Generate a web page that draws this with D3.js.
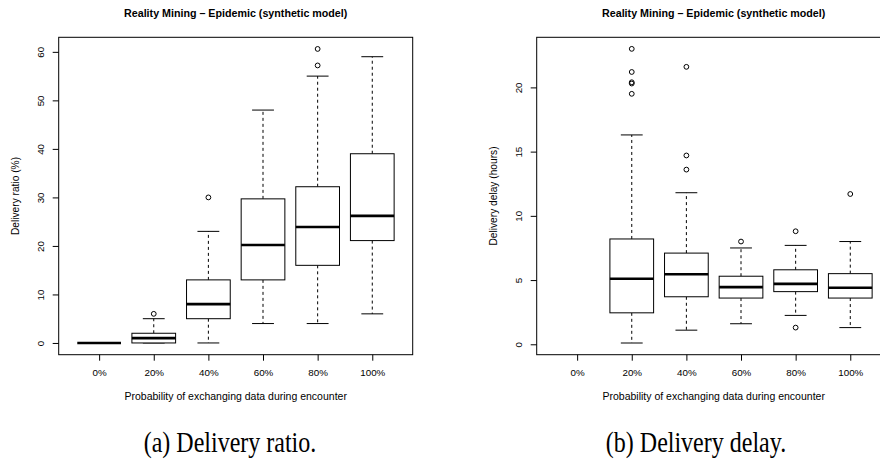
<!DOCTYPE html>
<html>
<head>
<meta charset="utf-8">
<script src="https://cdn.jsdelivr.net/npm/d3@7"></script>
<style>
  body { margin: 0; background: #fff; }
  svg { display: block; }
</style>
</head>
<body>
<div id="chart"></div>
<script>
// categories shared by both panels
var categories = ["0%", "20%", "40%", "60%", "80%", "100%"];

// (a) delivery ratio (%) - box stats per category
var ratioLow    = [0, 0, 0, 4, 4, 6];
var ratioQ1     = [0, 0, 5, 13, 16, 21.1];
var ratioMedian = [0, 1, 8, 20.2, 23.9, 26.2];
var ratioQ3     = [0, 2, 13, 29.7, 32.2, 39];
var ratioHigh   = [0, 5, 23, 48, 55, 59];
var ratioOut    = [[], [6], [30], [], [57.2, 60.6], []];
var ratioTicks  = [0, 10, 20, 30, 40, 50, 60];

// (b) delivery delay (hours) - no data for 0%
var delayLow    = [null, 0.1, 1.1, 1.6, 2.25, 1.3];
var delayQ1     = [null, 2.45, 3.7, 3.6, 4.1, 3.6];
var delayMedian = [null, 5.1, 5.45, 4.45, 4.7, 4.4];
var delayQ3     = [null, 8.2, 7.1, 5.3, 5.8, 5.5];
var delayHigh   = [null, 16.3, 11.8, 7.5, 7.7, 8.0];
var delayOut    = [[], [19.5, 20.3, 20.4, 21.2, 23.0], [13.6, 14.7, 21.6], [8.0], [1.3, 8.8], [11.7]];
var delayTicks  = [0, 5, 10, 15, 20];

var title = "Reality Mining \u2013 Epidemic (synthetic model)";
var xTitle = "Probability of exchanging data during encounter";

var sans = "Liberation Sans, Arial, sans-serif";

var svg = d3.select("#chart").append("svg")
    .attr("width", 880)
    .attr("height", 460);

var top_ = 37.3, bottom_ = 354.7;

function panel(opt) {
    var left = opt.left, right = left + 354;

    var x = d3.scaleLinear().domain([0.26, 6.74]).range([left, right]);
    var y = d3.scaleLinear().domain(opt.yDomain).range([bottom_, top_]);

    var g = svg.append("g");

    // frame
    g.append("rect")
        .attr("x", left).attr("y", top_)
        .attr("width", right - left).attr("height", bottom_ - top_)
        .attr("fill", "none").attr("stroke", "#000").attr("stroke-width", 1);

    // boxes
    var bw = 0.8, sw = 0.4;
    categories.forEach(function(c, i) {
        var cx = x(i + 1);
        if (opt.median[i] != null) {
            var dash = "3,3";
            // whiskers
            g.append("line")
                .attr("x1", cx).attr("x2", cx)
                .attr("y1", y(opt.q3[i])).attr("y2", y(opt.high[i]))
                .attr("stroke", "#000").attr("stroke-dasharray", dash);
            g.append("line")
                .attr("x1", cx).attr("x2", cx)
                .attr("y1", y(opt.q1[i])).attr("y2", y(opt.low[i]))
                .attr("stroke", "#000").attr("stroke-dasharray", dash);
            // staples
            [opt.low[i], opt.high[i]].forEach(function(v) {
                g.append("line")
                    .attr("x1", x(i + 1 - sw / 2)).attr("x2", x(i + 1 + sw / 2))
                    .attr("y1", y(v)).attr("y2", y(v))
                    .attr("stroke", "#000");
            });
            // box
            g.append("rect")
                .attr("x", x(i + 1 - bw / 2))
                .attr("y", y(opt.q3[i]))
                .attr("width", x(i + 1 + bw / 2) - x(i + 1 - bw / 2))
                .attr("height", Math.max(0, y(opt.q1[i]) - y(opt.q3[i])))
                .attr("fill", "#fff").attr("stroke", "#000");
            // median
            g.append("line")
                .attr("x1", x(i + 1 - bw / 2)).attr("x2", x(i + 1 + bw / 2))
                .attr("y1", y(opt.median[i])).attr("y2", y(opt.median[i]))
                .attr("stroke", "#000").attr("stroke-width", 2.6);
        }
        // outliers
        g.selectAll(null).data(opt.out[i]).enter()
            .append("circle")
            .attr("cx", cx).attr("cy", function(d) { return y(d); })
            .attr("r", 2.4)
            .attr("fill", "none").attr("stroke", "#000").attr("stroke-width", 1);
    });

    // x axis
    var xAxis = g.append("g")
        .attr("transform", "translate(0," + bottom_ + ")")
        .call(d3.axisBottom(x).tickValues([1, 2, 3, 4, 5, 6])
            .tickFormat(function(d) { return categories[d - 1]; })
            .tickSize(6).tickPadding(8));
    xAxis.select(".domain").remove();
    xAxis.selectAll("text").attr("font-size", 9.8).attr("font-family", sans);

    // y axis, labels parallel to the axis like R
    var yAxis = g.append("g")
        .attr("transform", "translate(" + left + ",0)")
        .call(d3.axisLeft(y).tickValues(opt.ticks).tickSize(6).tickPadding(0));
    yAxis.select(".domain").remove();
    yAxis.selectAll("text")
        .attr("font-size", 9.8).attr("font-family", sans)
        .attr("text-anchor", "middle")
        .attr("x", -18).attr("dy", "0.35em")
        .attr("transform", "rotate(-90,-18,0)");

    var mid = (left + right) / 2;

    // title
    g.append("text")
        .attr("x", mid).attr("y", 17)
        .attr("text-anchor", "middle")
        .attr("font-family", sans)
        .attr("font-weight", "bold").attr("font-size", 10.7)
        .text(title);

    // axis titles
    g.append("text")
        .attr("x", mid).attr("y", 400)
        .attr("text-anchor", "middle")
        .attr("font-family", sans)
        .attr("font-size", 10.5)
        .text(xTitle);

    g.append("text")
        .attr("transform", "translate(" + (left - 40) + "," + ((top_ + bottom_) / 2) + ") rotate(-90)")
        .attr("text-anchor", "middle")
        .attr("font-family", sans)
        .attr("font-size", 10.2)
        .text(opt.yTitle);

    // caption (slightly stretched vertically, as in the source figure)
    svg.append("text")
        .attr("transform", "translate(" + opt.captionX + ",451.5) scale(1,1.22)")
        .attr("text-anchor", "middle")
        .attr("font-family", "Liberation Serif, Times New Roman, serif")
        .attr("font-size", 24)
        .text(opt.caption);
}

panel({
    left: 58.7,
    yDomain: [-2.42, 63.0],
    ticks: ratioTicks,
    low: ratioLow, q1: ratioQ1, median: ratioMedian, q3: ratioQ3, high: ratioHigh, out: ratioOut,
    yTitle: "Delivery ratio (%)",
    caption: "(a) Delivery ratio.",
    captionX: 230
});

panel({
    left: 536.7,
    yDomain: [-0.81, 23.9],
    ticks: delayTicks,
    low: delayLow, q1: delayQ1, median: delayMedian, q3: delayQ3, high: delayHigh, out: delayOut,
    yTitle: "Delivery delay (hours)",
    caption: "(b) Delivery delay.",
    captionX: 696
});
</script>
</body>
</html>
